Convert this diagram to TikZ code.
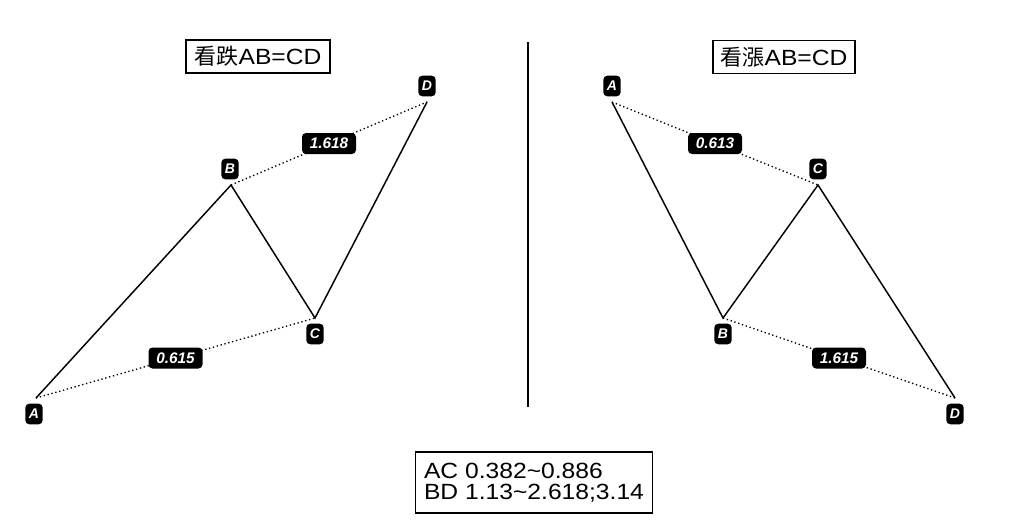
\documentclass[tikz,border=0pt]{standalone}
\usepackage{fontspec}
\setmainfont{Liberation Sans}[FakeStretch=1.12]
\newfontfamily\labfont{Liberation Sans}
\newfontfamily\cjk{Noto Sans CJK TC}
\begin{document}
\begin{tikzpicture}[x=0.75pt,y=-0.75pt,
  leg/.style={line width=1.1pt,line join=miter},
  ratio/.style={line width=1pt,dash pattern=on 1pt off 2pt},
  ptlab/.style={fill=black,text=white,rounded corners=3pt,inner sep=0pt,minimum width=13pt,minimum height=15.5pt,font=\labfont\fontsize{10.5}{11}\selectfont\bfseries\itshape},
  rlab/.style={fill=black,text=white,rounded corners=3pt,inner sep=0pt,minimum width=40.5pt,minimum height=15.75pt,font=\labfont\fontsize{11.5}{12}\selectfont\bfseries\itshape},
  titlebox/.style={draw,line width=1pt,inner sep=0pt,minimum height=24.75pt,font=\fontsize{16.5}{20}\selectfont},
  infobox/.style={draw,line width=1pt,inner sep=0pt,minimum width=178pt,minimum height=45.75pt,align=left,font=\fontsize{16.5}{15.4}\selectfont}]
\useasboundingbox (0,0) rectangle (1024,526);
% left pattern points
\coordinate (LA) at (36,398);
\coordinate (LB) at (231,185);
\coordinate (LC) at (315,318);
\coordinate (LD) at (427,102);
% right pattern points
\coordinate (RA) at (612,102);
\coordinate (RB) at (723,318);
\coordinate (RC) at (818,185);
\coordinate (RD) at (955,398);
% divider
\coordinate (divT) at (528,42);
\coordinate (divB) at (528,407);
\draw[line width=1.1pt] (divT) -- (divB);
% left legs
\draw[leg] (LA) -- (LB) -- (LC) -- (LD);
\draw[ratio] (LA) -- node[rlab] (lr1) {0.615} (LC);
\draw[ratio] (LB) -- node[rlab] (lr2) {1.618} (LD);
% right legs
\draw[leg] (RA) -- (RB) -- (RC) -- (RD);
\draw[ratio] (RA) -- node[rlab] (rr1) {0.613} (RC);
\draw[ratio] (RB) -- node[rlab] (rr2) {1.615} (RD);
% point labels
\node[ptlab] (lA) at (34,414) {A};
\node[ptlab] (lB) at (230,169) {B};
\node[ptlab] (lC) at (315,334) {C};
\node[ptlab] (lD) at (427,86) {D};
\node[ptlab] (rA) at (612,86) {A};
\node[ptlab] (rB) at (723,334) {B};
\node[ptlab] (rC) at (818,169) {C};
\node[ptlab] (rD) at (955,414) {D};
% titles
\node[titlebox,minimum width=108pt] (t1) at (258,56.5) {{\cjk 看跌}AB=CD};
\node[titlebox,minimum width=106.5pt] (t2) at (784,57) {{\cjk 看漲}AB=CD};
% info
\node[infobox] (info) at (534,482.5) {AC 0.382\textasciitilde 0.886\\BD 1.13\textasciitilde 2.618;3.14};
\end{tikzpicture}
\end{document}
